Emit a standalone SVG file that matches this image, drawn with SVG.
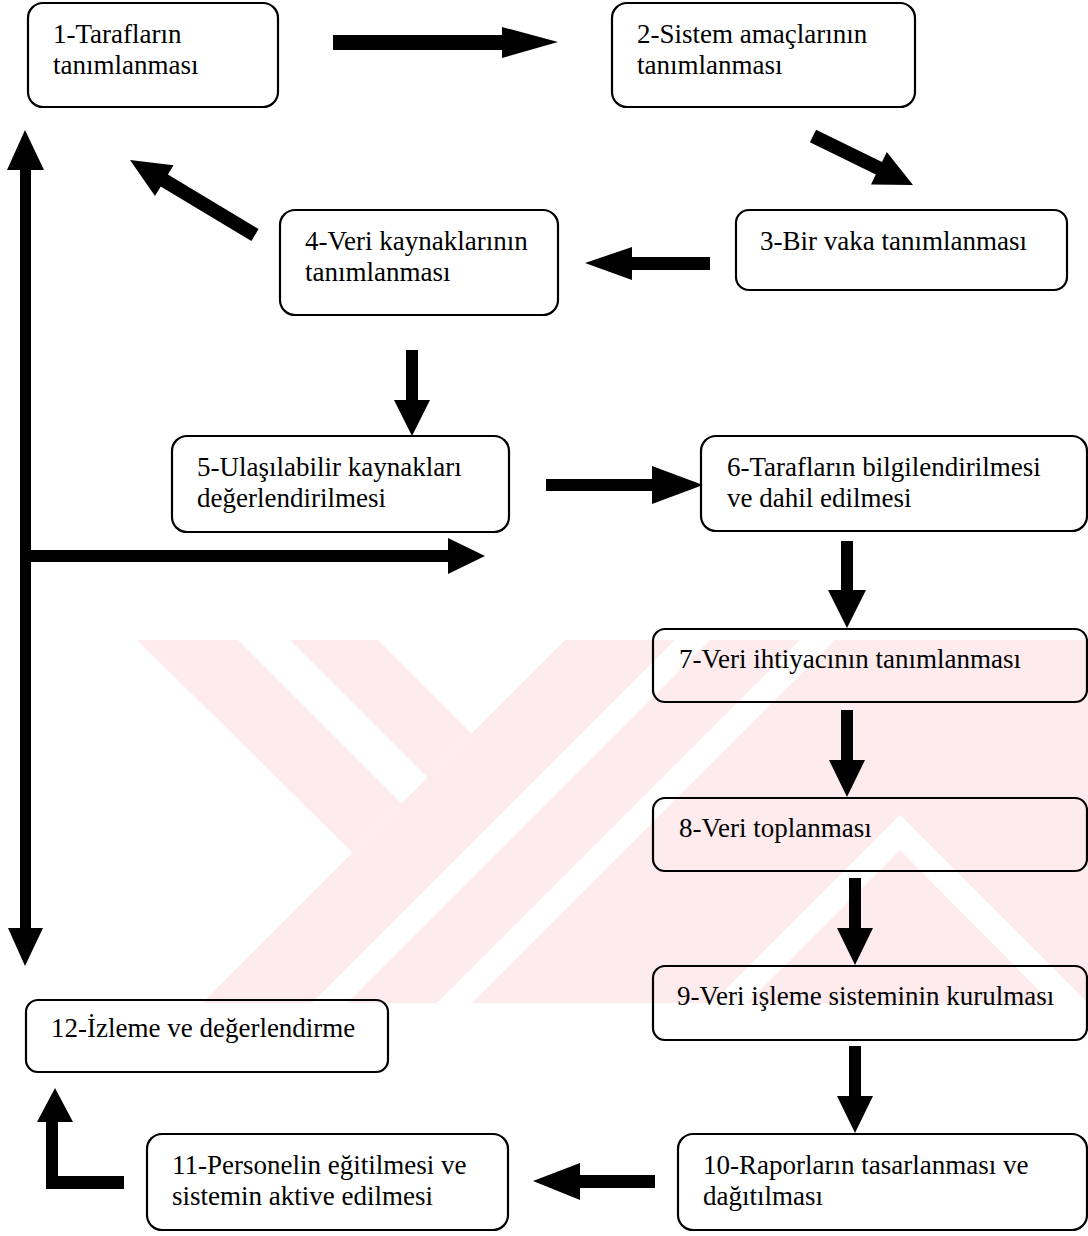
<svg xmlns="http://www.w3.org/2000/svg" width="1088" height="1236" viewBox="0 0 1088 1236">
<style>
.box{fill:none;stroke:#000;stroke-width:2.2}
.t{font-family:"Liberation Serif","Times New Roman",serif;font-size:27px;fill:#000}
.arr{fill:#000;stroke:none}
.wm{fill:#fdebee;stroke:none}
.wg{fill:#ffffff;stroke:none}
</style>
<defs>
<clipPath id="band"><rect x="0" y="640" width="1088" height="363"/></clipPath>
</defs>
<rect x="0" y="0" width="1088" height="1236" fill="#ffffff"/>
<g id="watermark" clip-path="url(#band)">
<polygon class="wm" points="137,640 238,640 401.5,803.5 352.5,852.5"/>
<polygon class="wm" points="290,640 378,640 471.5,733.5 427.5,777.5"/>
<polygon class="wm" points="565,640 675,640 312,1003 202,1003"/>
<polygon class="wm" points="710,640 800,640 437,1003 347,1003"/>
<polygon class="wm" points="835,640 1088,640 1088,1003 472,1003"/>
<polygon class="wg" points="900,815 1088,1003 1088,1040 900,850 747,1003 712,1003"/>
</g>
<g id="connectors">
<polygon class="arr" points="333,35 502,35 502,27 558,42 502,58 502,50 333,50"/>
<polygon class="arr" points="816.1,129.7 882.0,162.0 886.8,152.1 913,185 871.0,184.5 875.8,174.6 809.9,142.3"/>
<polygon class="arr" points="710,257 632,257 632,247 585,263 632,280 632,270 710,270"/>
<polygon class="arr" points="258.6,229.0 167.9,174.6 173.6,165.2 130,160 155.0,196.0 160.7,186.6 251.4,241.0"/>
<polygon class="arr" points="406,350 418,350 418,400 430,400 412,436 394,400 406,400"/>
<polygon class="arr" points="546,479 652,479 652,466 703,485 652,504 652,491 546,491"/>
<polygon class="arr" points="841,541 853,541 853,590 866,590 847,628 828,590 841,590"/>
<polygon class="arr" points="841,710 853,710 853,760 865,760 847,797 829,760 841,760"/>
<polygon class="arr" points="849,878 861,878 861,928 873,928 855,965 837,928 849,928"/>
<polygon class="arr" points="849,1046 861,1046 861,1096 873,1096 855,1133 837,1096 849,1096"/>
<polygon class="arr" points="655,1175 580,1175 580,1163 533,1181 580,1200 580,1188 655,1188"/>
<polygon class="arr" points="25,130 44,170 31,170 31,928 43,928 25,966 8,928 20,928 20,170 7,170"/>
<polygon class="arr" points="31,550 448,550 448,538 485,556 448,574 448,562 31,562"/>
<polygon class="arr" points="124,1176 124,1189 46,1189 46,1122 37,1122 55,1088 73,1122 58,1122 58,1176"/>
</g>
<g id="n1"><rect class="box" x="28" y="3" width="250" height="104" rx="15"/><text class="t" x="53" y="43">1-Tarafların</text><text class="t" x="53" y="74">tanımlanması</text></g>
<g id="n2"><rect class="box" x="612" y="3" width="303" height="104" rx="15"/><text class="t" x="637" y="43">2-Sistem amaçlarının</text><text class="t" x="637" y="74">tanımlanması</text></g>
<g id="n3"><rect class="box" x="736" y="210" width="331" height="80" rx="13"/><text class="t" x="760" y="250">3-Bir vaka tanımlanması</text></g>
<g id="n4"><rect class="box" x="280" y="210" width="278" height="105" rx="15"/><text class="t" x="305" y="250">4-Veri kaynaklarının</text><text class="t" x="305" y="281">tanımlanması</text></g>
<g id="n5"><rect class="box" x="172" y="436" width="337" height="96" rx="15"/><text class="t" x="197" y="476">5-Ulaşılabilir kaynakları</text><text class="t" x="197" y="507">değerlendirilmesi</text></g>
<g id="n6"><rect class="box" x="701" y="436" width="386" height="95" rx="15"/><text class="t" x="727" y="476">6-Tarafların bilgilendirilmesi</text><text class="t" x="727" y="507">ve dahil edilmesi</text></g>
<g id="n7"><rect class="box" x="653" y="629" width="434" height="73" rx="12"/><text class="t" x="679" y="668">7-Veri ihtiyacının tanımlanması</text></g>
<g id="n8"><rect class="box" x="653" y="798" width="434" height="73" rx="12"/><text class="t" x="679" y="837">8-Veri toplanması</text></g>
<g id="n9"><rect class="box" x="653" y="966" width="434" height="74" rx="12"/><text class="t" x="677" y="1005">9-Veri işleme sisteminin kurulması</text></g>
<g id="n10"><rect class="box" x="678" y="1134" width="409" height="96" rx="15"/><text class="t" x="703" y="1174">10-Raporların tasarlanması ve</text><text class="t" x="703" y="1205">dağıtılması</text></g>
<g id="n11"><rect class="box" x="147" y="1134" width="361" height="96" rx="15"/><text class="t" x="172" y="1174">11-Personelin eğitilmesi ve</text><text class="t" x="172" y="1205">sistemin aktive edilmesi</text></g>
<g id="n12"><rect class="box" x="26" y="1000" width="362" height="72" rx="12"/><text class="t" x="51" y="1037">12-İzleme ve değerlendirme</text></g>
</svg>
